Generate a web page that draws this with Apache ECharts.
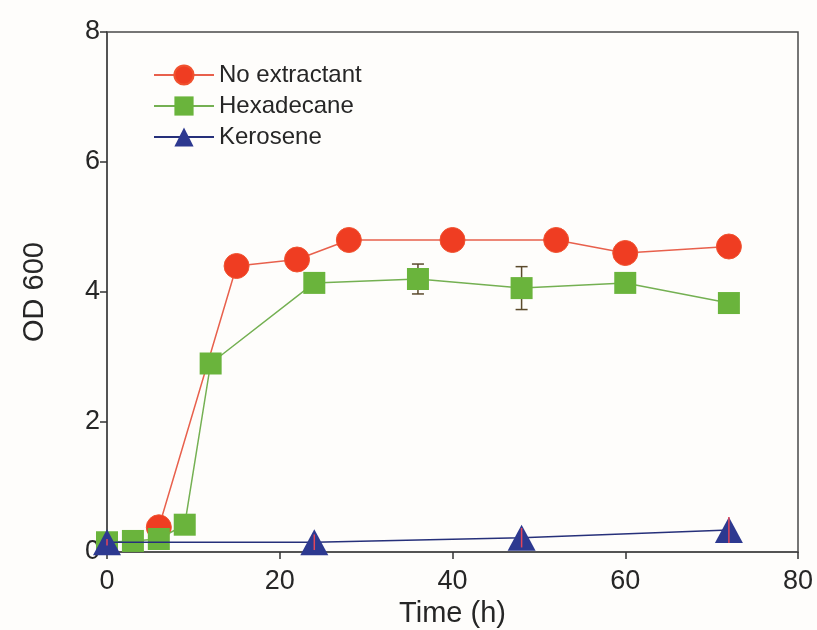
<!DOCTYPE html>
<html>
<head>
<meta charset="utf-8">
<script src="https://cdn.jsdelivr.net/npm/echarts@6/dist/echarts.min.js"></script>
<style>
  html, body { margin: 0; padding: 0; background: #fefdfb; }
  #chart { width: 817px; height: 630px; }
</style>
</head>
<body>
<div id="chart"></div>
<script>
// Growth curves: OD600 over time for three extraction conditions
const timeNoExtractant = [6, 15, 22, 28, 40, 52, 60, 72];
const odNoExtractant   = [0.38, 4.4, 4.5, 4.8, 4.8, 4.8, 4.6, 4.7];

const timeHexadecane = [0, 3, 6, 9, 12, 24, 36, 48, 60, 72];
const odHexadecane   = [0.15, 0.17, 0.2, 0.42, 2.9, 4.14, 4.2, 4.06, 4.14, 3.83];
const errHexadecane  = [0.03, 0.05, 0.05, 0.08, 0.08, 0.1, 0.23, 0.33, 0.1, 0.1];

const timeKerosene = [0, 24, 48, 72];
const odKerosene   = [0.15, 0.15, 0.22, 0.34];
const errKerosene  = [0.05, 0.12, 0.15, 0.2];

const xTicks = [0, 20, 40, 60, 80];
const yTicks = [0, 2, 4, 6, 8];

const zip = (xs, ys) => xs.map((x, i) => [x, ys[i]]);
const errRows = (xs, ys, es) => xs.map((x, i) => [x, ys[i] - es[i], ys[i] + es[i]]);

// vertical error bar with optional caps, drawn in data coordinates
function errorBar(color, cap) {
  return function (params, api) {
    const x = api.value(0);
    const lo = api.coord([x, api.value(1)]);
    const hi = api.coord([x, api.value(2)]);
    const style = { stroke: color, lineWidth: 1.5 };
    const children = [
      { type: 'line', shape: { x1: lo[0], y1: lo[1], x2: hi[0], y2: hi[1] }, style }
    ];
    if (cap > 0) {
      children.push(
        { type: 'line', shape: { x1: lo[0] - cap, y1: lo[1], x2: lo[0] + cap, y2: lo[1] }, style },
        { type: 'line', shape: { x1: hi[0] - cap, y1: hi[1], x2: hi[0] + cap, y2: hi[1] }, style }
      );
    }
    return { type: 'group', children };
  };
}

const font = 'Liberation Sans, Arial, sans-serif';
const ink = '#262626';
const chart = echarts.init(document.getElementById('chart'), null, { renderer: 'canvas' });

chart.setOption({
  backgroundColor: '#fefdfb',
  animation: false,
  grid: {
    left: 107, right: 19, top: 32, bottom: 78,
    outerBoundsMode: 'none',
    show: true, borderColor: '#4a4a4a', borderWidth: 1.5
  },
  legend: {
    orient: 'vertical',
    left: 148,
    top: 58,
    itemWidth: 60,
    itemHeight: 24,
    itemGap: 7,
    textStyle: { fontFamily: font, fontSize: 24, color: ink },
    data: ['No extractant', 'Hexadecane', 'Kerosene']
  },
  xAxis: {
    type: 'value',
    min: xTicks[0],
    max: xTicks[xTicks.length - 1],
    interval: xTicks[1] - xTicks[0],
    name: 'Time (h)',
    nameLocation: 'middle',
    nameGap: 44,
    nameTextStyle: { fontFamily: font, fontSize: 29, color: ink },
    axisLine: { show: true, lineStyle: { color: '#4a4a4a', width: 1.5 } },
    axisTick: { show: true, inside: false, length: 7, lineStyle: { color: '#333', width: 1.5 } },
    axisLabel: { fontFamily: font, fontSize: 27, color: ink, margin: 16 },
    splitLine: { show: false }
  },
  yAxis: {
    type: 'value',
    min: yTicks[0],
    max: yTicks[yTicks.length - 1],
    interval: yTicks[1] - yTicks[0],
    name: 'OD 600',
    nameLocation: 'middle',
    nameGap: 58,
    nameTextStyle: { fontFamily: font, fontSize: 29, color: ink },
    axisLine: { show: true, lineStyle: { color: '#4a4a4a', width: 1.5 } },
    axisTick: { show: true, inside: false, length: 7, lineStyle: { color: '#333', width: 1.5 } },
    axisLabel: { fontFamily: font, fontSize: 27, color: ink, margin: 7 },
    splitLine: { show: false }
  },
  series: [
    {
      name: 'Hexadecane error',
      type: 'custom',
      renderItem: errorBar('#5b4a2c', 6),
      data: errRows(timeHexadecane, odHexadecane, errHexadecane),
      encode: { x: 0, y: [1, 2] },
      z: 1,
      silent: true
    },
    {
      name: 'No extractant',
      type: 'line',
      data: zip(timeNoExtractant, odNoExtractant),
      symbol: 'circle',
      symbolSize: 25,
      lineStyle: { color: '#e8604c', width: 1.5 },
      itemStyle: { color: '#ef3d22', borderColor: '#f0522f', borderWidth: 1 },
      z: 2
    },
    {
      name: 'Hexadecane',
      type: 'line',
      data: zip(timeHexadecane, odHexadecane),
      symbol: 'rect',
      symbolSize: 22,
      lineStyle: { color: '#74b052', width: 1.5 },
      itemStyle: { color: '#6ab43c' },
      z: 3
    },
    {
      name: 'Kerosene',
      type: 'line',
      data: zip(timeKerosene, odKerosene),
      symbol: 'triangle',
      symbolSize: [28, 26],
      lineStyle: { color: '#26307a', width: 1.5 },
      itemStyle: { color: '#2d3990' },
      z: 4
    },
    {
      name: 'Kerosene error',
      type: 'custom',
      renderItem: errorBar('#e4465a', 0),
      data: errRows(timeKerosene, odKerosene, errKerosene),
      encode: { x: 0, y: [1, 2] },
      z: 5,
      silent: true
    }
  ]
});
</script>
</body>
</html>
